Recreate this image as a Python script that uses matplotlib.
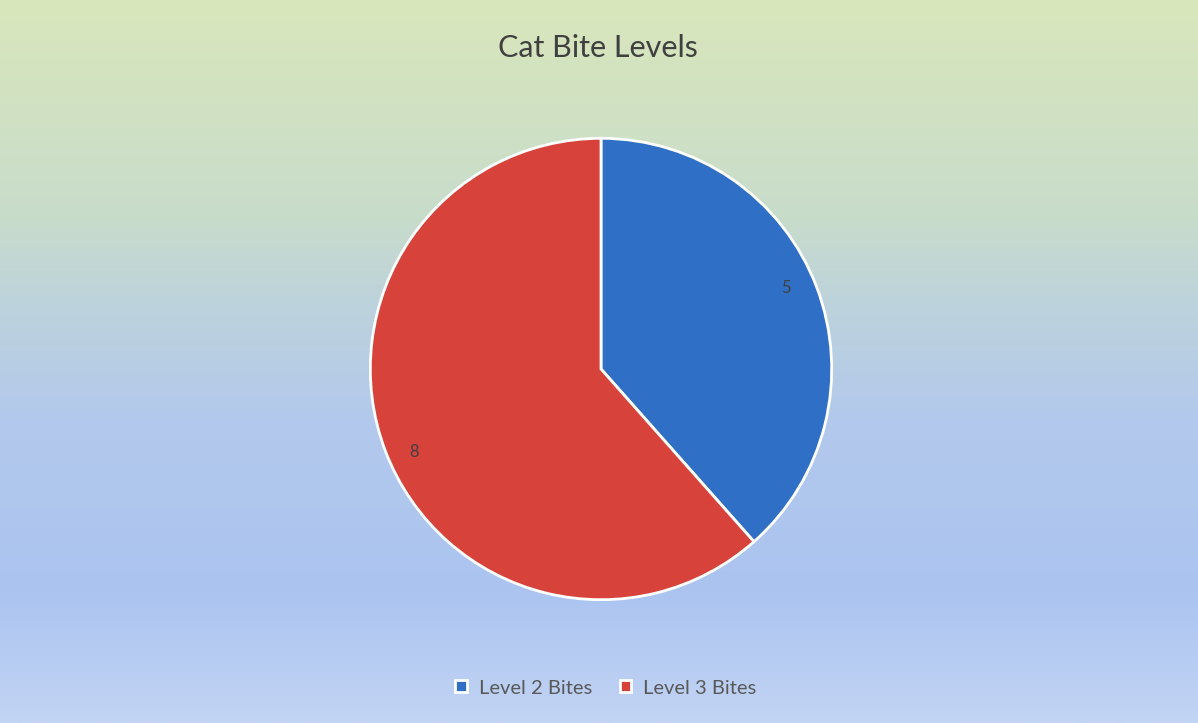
import matplotlib.pyplot as plt
import matplotlib.colors as mcolors
import numpy as np

# data
categories = ['Level 2 Bites', 'Level 3 Bites']
values = [5, 8]
colors = ['#2f6fc6', '#d7433b']

title_str = 'Cat Bite Levels'

W, H = 1198, 723
fig = plt.figure(figsize=(W / 100, H / 100), dpi=100)

# background gradient (green at top -> blue lower down)
bg = fig.add_axes([0, 0, 1, 1])
cmap = mcolors.LinearSegmentedColormap.from_list('bg', [
	(0.0, '#d9e7bb'),
	(0.3, '#c8dccb'),
	(0.42, '#bdd3dc'),
	(0.58, '#b3c9ec'),
	(0.82, '#abc4f0'),
	(1.0, '#c2d4f4'),
])
grad = np.linspace(0, 1, 256).reshape(-1, 1)
bg.imshow(grad, aspect='auto', cmap=cmap, extent=[0, 1, 1, 0])
bg.set_xlim(0, 1)
bg.set_ylim(1, 0)
bg.axis('off')

# pie axes placed so circle is centred at (601, 369) with radius 232 px
cx, cy, r = 601, 369, 233
ax = fig.add_axes([(cx - r) / W, (H - cy - r) / H, 2 * r / W, 2 * r / H])
wedges, texts, autotexts = ax.pie(values, colors=colors, startangle=90, counterclock=False,
	autopct=lambda p: '%d' % round(p * sum(values) / 100.0), pctdistance=0.88,
	wedgeprops=dict(edgecolor='white', linewidth=2), radius=1.0,
	textprops=dict(color='#404040', fontsize=12, family='Lato'))
autotexts[0].set_position((0.80, 0.35))
autotexts[1].set_position((-0.81, -0.36))
ax.set_xlim(-1.01, 1.01)
ax.set_ylim(-1.01, 1.01)
ax.set_aspect('auto')
ax.axis('off')

fig.text(598 / W, 1 - 48 / H, title_str, ha='center', va='center', fontsize=22,
	color='#404040', family='Lato')

# legend
leg = fig.legend(wedges, categories, loc='center', bbox_to_anchor=(606 / W, 1 - 688 / H),
	ncol=2, frameon=False, handlelength=0.55, handleheight=0.55, handletextpad=0.6,
	columnspacing=1.4, prop=dict(family='Lato', size=14.5))
for t in leg.get_texts():
	t.set_color('#595959')

plt.savefig('out.png', dpi=100)
